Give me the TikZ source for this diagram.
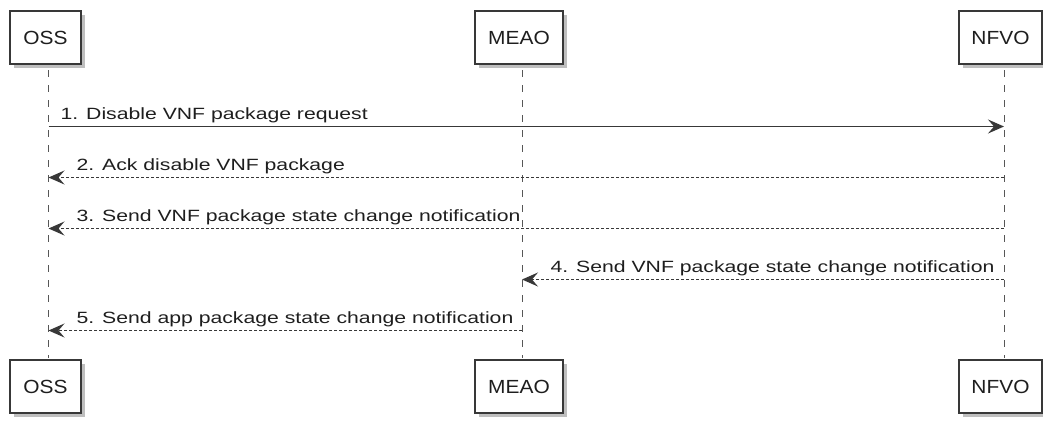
\documentclass[tikz,border=0pt]{standalone}
\usepackage{fontspec}
\setmainfont{Liberation Sans}
\newfontfamily\msgfont[FakeStretch=1.3]{Liberation Sans}
\newfontfamily\partfont[FakeStretch=1.1]{Liberation Sans}
\usetikzlibrary{arrows.meta,calc,shadows}
\definecolor{ink}{HTML}{383838}
\definecolor{txt}{HTML}{1E1E1E}
\begin{document}
\begin{tikzpicture}[x=1pt,y=-1pt,
  part/.style={draw=ink, line width=1.6pt, fill=white, minimum height=53pt, inner sep=0pt,
    font=\partfont\fontsize{19}{22}\selectfont, text=txt,
    drop shadow={shadow xshift=4pt, shadow yshift=-4pt, fill=black, opacity=0.25}},
  life/.style={draw=ink!85, line width=0.9pt, dash pattern=on 7pt off 8pt},
  msgline/.style={draw=ink, line width=1.4pt, -{Stealth[length=16pt,width=14pt,inset=6pt]}},
  reply/.style={msgline, dash pattern=on 3pt off 2pt},
  lbl/.style={anchor=base west, inner sep=0pt, font=\msgfont\fontsize{16.3}{19}\selectfont, text=txt}
]
\useasboundingbox (0,0) rectangle (1043,421);
% lifeline end points
\coordinate (ossT) at (48.5,70);
\coordinate (ossB) at (48.5,358);
\coordinate (meaoT) at (522,70);
\coordinate (meaoB) at (522,358);
\coordinate (nfvoT) at (1004,70);
\coordinate (nfvoB) at (1004,358);
\draw[life] (ossT) -- (ossB);
\draw[life] (meaoT) -- (meaoB);
\draw[life] (nfvoT) -- (nfvoB);
% participants
\node[part, minimum width=71pt] (oss) at (45.5,37.5) {OSS};
\node[part, minimum width=88pt] (meao) at (519,37.5) {MEAO};
\node[part, minimum width=83pt] (nfvo) at (1000.5,37.5) {NFVO};
\node[part, minimum width=71pt] (ossb) at (45.5,386.5) {OSS};
\node[part, minimum width=88pt] (meaob) at (519,386.5) {MEAO};
\node[part, minimum width=83pt] (nfvob) at (1000.5,386.5) {NFVO};
% message end points
\coordinate (m1a) at (48.5,126.5);  \coordinate (m1b) at (1004,126.5);
\coordinate (m2a) at (1004,177.5);  \coordinate (m2b) at (48.5,177.5);
\coordinate (m3a) at (1004,228.5);  \coordinate (m3b) at (48.5,228.5);
\coordinate (m4a) at (1004,279.5);  \coordinate (m4b) at (522,279.5);
\coordinate (m5a) at (522,330.5);   \coordinate (m5b) at (48.5,330.5);
\draw[msgline] (m1a) -- (m1b);
\draw[reply] (m2a) -- (m2b);
\draw[reply] (m3a) -- (m3b);
\draw[reply] (m4a) -- (m4b);
\draw[reply] (m5a) -- (m5b);
\node[lbl] (l1) at ($(m1a)+(12,-7)$) {1. Disable VNF package request};
\node[lbl] (l2) at ($(m2b)+(28,-7)$) {2. Ack disable VNF package};
\node[lbl] (l3) at ($(m3b)+(28,-7)$) {3. Send VNF package state change notification};
\node[lbl] (l4) at ($(m4b)+(28.5,-7)$) {4. Send VNF package state change notification};
\node[lbl] (l5) at ($(m5b)+(28,-7)$) {5. Send app package state change notification};
\end{tikzpicture}
\end{document}
